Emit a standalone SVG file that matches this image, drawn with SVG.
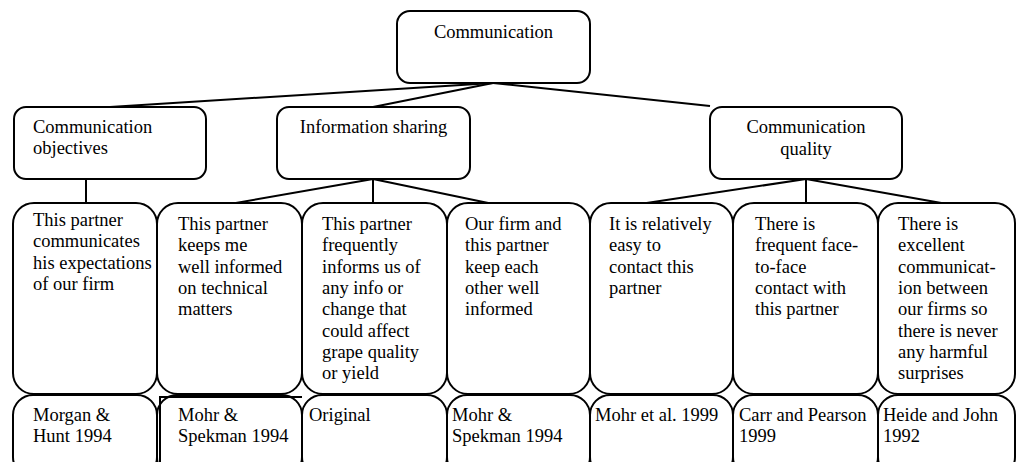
<svg xmlns="http://www.w3.org/2000/svg" width="1017" height="462" viewBox="0 0 1017 462">
  <style>
    .box { fill: #ffffff; stroke: #000000; stroke-width: 2; }
    .edge { fill: none; stroke: #000000; stroke-width: 2; }
    text { font-family: "Liberation Serif", "Times New Roman", serif; font-size: 18.5px; fill: #000000; }
    .mid { text-anchor: middle; }
  </style>
  <rect width="1017" height="462" fill="#ffffff"/>

  <!-- tree connectors -->
  <g id="connectors" class="edge">
    <line x1="493" y1="83" x2="110" y2="107"/>
    <line x1="493" y1="83" x2="373" y2="107"/>
    <line x1="493" y1="83" x2="710" y2="106"/>
    <line x1="86" y1="179" x2="86" y2="204"/>
    <line x1="373" y1="179" x2="230" y2="204"/>
    <line x1="373" y1="179" x2="373" y2="204"/>
    <line x1="373" y1="179" x2="493" y2="204"/>
    <line x1="806" y1="179" x2="640" y2="204"/>
    <line x1="806" y1="179" x2="806" y2="204"/>
    <line x1="806" y1="179" x2="947" y2="204"/>
  </g>

  <!-- root -->
  <g id="communication">
    <rect class="box" x="397" y="11" width="193" height="72" rx="13"/>
    <text class="mid" x="493.5" y="38">Communication</text>
  </g>

  <!-- dimensions -->
  <g id="communication-objectives">
    <rect class="box" x="14" y="107" width="192" height="72" rx="12"/>
    <text x="33" y="133">Communication<tspan x="33" dy="21">objectives</tspan></text>
  </g>
  <g id="information-sharing">
    <rect class="box" x="277" y="107" width="193" height="72" rx="12"/>
    <text class="mid" x="373.5" y="133">Information sharing</text>
  </g>
  <g id="communication-quality">
    <rect class="box" x="710" y="107" width="192" height="72" rx="12"/>
    <text class="mid" x="806" y="133">Communication<tspan x="806" dy="22">quality</tspan></text>
  </g>

  <!-- items -->
  <g id="item-1">
    <rect class="box" x="13" y="203" width="144" height="191" rx="21"/>
    <text x="33" y="226">This partner<tspan x="33" dy="21.3">communicates</tspan><tspan x="33" dy="21.3">his expectations</tspan><tspan x="33" dy="21.3">of our firm</tspan></text>
  </g>
  <g id="item-2">
    <rect class="box" x="157" y="203" width="145" height="191" rx="21"/>
    <text x="178" y="230">This partner<tspan x="178" dy="21.3">keeps me</tspan><tspan x="178" dy="21.3">well informed</tspan><tspan x="178" dy="21.3">on technical</tspan><tspan x="178" dy="21.3">matters</tspan></text>
  </g>
  <g id="item-3">
    <rect class="box" x="302" y="203" width="145" height="191" rx="21"/>
    <text x="322" y="230">This partner<tspan x="322" dy="21.3">frequently</tspan><tspan x="322" dy="21.3">informs us of</tspan><tspan x="322" dy="21.3">any info or</tspan><tspan x="322" dy="21.3">change that</tspan><tspan x="322" dy="21.3">could affect</tspan><tspan x="322" dy="21.3">grape quality</tspan><tspan x="322" dy="21.3">or yield</tspan></text>
  </g>
  <g id="item-4">
    <rect class="box" x="447" y="203" width="143" height="191" rx="21"/>
    <text x="465" y="230">Our firm and<tspan x="465" dy="21.3">this partner</tspan><tspan x="465" dy="21.3">keep each</tspan><tspan x="465" dy="21.3">other well</tspan><tspan x="465" dy="21.3">informed</tspan></text>
  </g>
  <g id="item-5">
    <rect class="box" x="590" y="203" width="143" height="191" rx="21"/>
    <text x="609" y="230">It is relatively<tspan x="609" dy="21.3">easy to</tspan><tspan x="609" dy="21.3">contact this</tspan><tspan x="609" dy="21.3">partner</tspan></text>
  </g>
  <g id="item-6">
    <rect class="box" x="733" y="203" width="145" height="191" rx="21"/>
    <text x="755" y="230">There is<tspan x="755" dy="21.3">frequent face-</tspan><tspan x="755" dy="21.3">to-face</tspan><tspan x="755" dy="21.3">contact with</tspan><tspan x="755" dy="21.3">this partner</tspan></text>
  </g>
  <g id="item-7">
    <rect class="box" x="878" y="203" width="137" height="191" rx="20"/>
    <text x="898" y="230">There is<tspan x="898" dy="21.3">excellent</tspan><tspan x="898" dy="21.3">communicat-</tspan><tspan x="898" dy="21.3">ion between</tspan><tspan x="898" dy="21.3">our firms so</tspan><tspan x="898" dy="21.3">there is never</tspan><tspan x="898" dy="21.3">any harmful</tspan><tspan x="898" dy="21.3">surprises</tspan></text>
  </g>

  <!-- sources -->
  <g id="source-1">
    <rect class="box" x="13" y="395" width="144" height="82" rx="20"/>
    <text x="33" y="421">Morgan &amp;<tspan x="33" dy="21">Hunt 1994</tspan></text>
  </g>
  <g id="source-2">
    <rect class="box" x="157" y="395" width="145" height="82" rx="20"/>
    <path class="edge" d="M160 470 V397 H302"/>
    <text x="178" y="421">Mohr &amp;<tspan x="178" dy="21">Spekman 1994</tspan></text>
  </g>
  <g id="source-3">
    <rect class="box" x="302" y="395" width="145" height="82" rx="20"/>
    <text x="309" y="421">Original</text>
  </g>
  <g id="source-4">
    <rect class="box" x="447" y="395" width="143" height="82" rx="20"/>
    <text x="452" y="421">Mohr &amp;<tspan x="452" dy="21">Spekman 1994</tspan></text>
  </g>
  <g id="source-5">
    <rect class="box" x="590" y="395" width="143" height="82" rx="20"/>
    <text x="595" y="421">Mohr et al. 1999</text>
  </g>
  <g id="source-6">
    <rect class="box" x="733" y="395" width="145" height="82" rx="20"/>
    <text x="739" y="421">Carr and Pearson<tspan x="739" dy="21">1999</tspan></text>
  </g>
  <g id="source-7">
    <rect class="box" x="878" y="395" width="137" height="82" rx="20"/>
    <text x="883" y="421">Heide and John<tspan x="883" dy="21">1992</tspan></text>
  </g>
</svg>
